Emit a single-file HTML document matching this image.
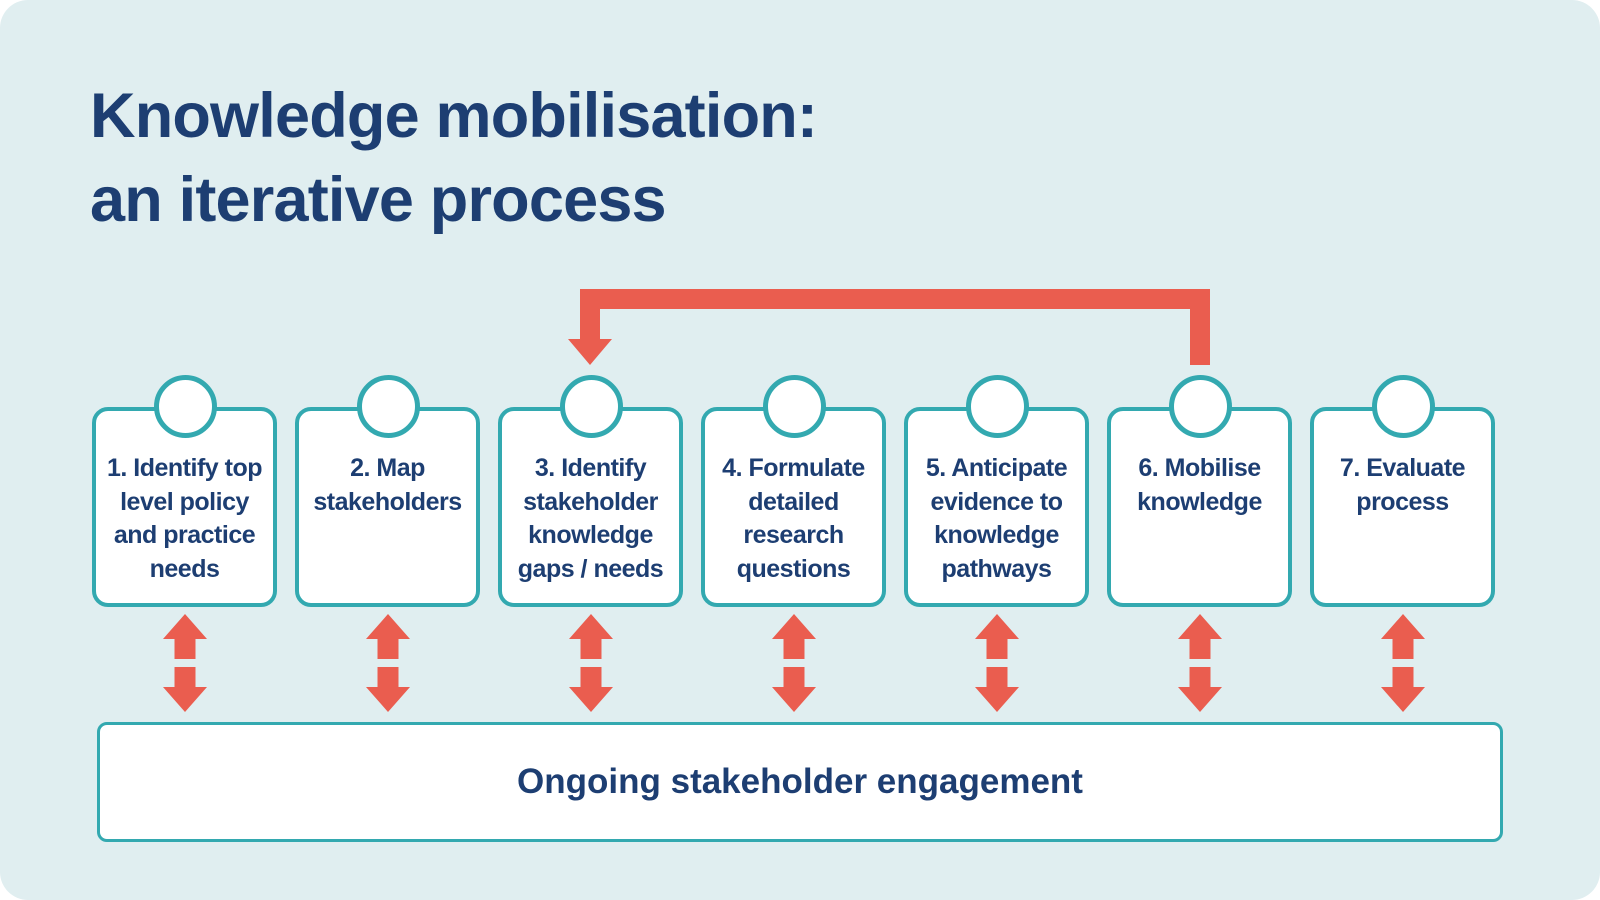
<!DOCTYPE html>
<html><head><meta charset="utf-8"><style>
body{margin:0;width:1600px;height:900px;background:#fff;overflow:hidden;font-family:"Liberation Sans",sans-serif}
#bg{position:absolute;left:0;top:0;width:1600px;height:900px;background:#e0eef0;border-radius:28px}
h1{position:absolute;left:90px;top:74px;margin:0;font-size:63px;line-height:84px;color:#1d3e72;font-weight:bold;letter-spacing:-0.8px}
.box{position:absolute;top:407px;width:177px;height:192px;border:4.5px solid #33a9b0;border-radius:16px;background:#fff;box-sizing:content-box}
.t{position:absolute;left:0;right:0;top:41px;text-align:center;font-size:25px;line-height:33.5px;color:#1d3e72;font-weight:bold;letter-spacing:-0.5px}
.c{position:absolute;top:375px;width:53px;height:53px;border:5px solid #33a9b0;border-radius:50%;background:#fff}
#bot{position:absolute;left:97px;top:722px;width:1400px;height:114px;border:3px solid #33a9b0;border-radius:10px;background:#fff;text-align:center;line-height:114px;font-size:35px;font-weight:bold;color:#1d3e72}
svg{position:absolute;left:0;top:0}
</style></head><body>
<div id="bg"></div>
<h1>Knowledge mobilisation:<br>an iterative process</h1>
<svg width="1600" height="900">
<g fill="#ea5d4f">
<rect x="1190" y="289" width="20" height="76"/>
<rect x="580" y="289" width="630" height="20"/>
<rect x="580" y="289" width="20" height="52"/>
<polygon points="568,339 612,339 590,365"/>
</g>
<g fill="#ea5d4f" id="arrs"></g>
</svg>
<div id="boxes"></div>
<div id="bot">Ongoing stakeholder engagement</div>
<script>
var texts=["1. Identify top<br>level policy<br>and practice<br>needs","2. Map<br>stakeholders","3. Identify<br>stakeholder<br>knowledge<br>gaps / needs","4. Formulate<br>detailed<br>research<br>questions","5. Anticipate<br>evidence to<br>knowledge<br>pathways","6. Mobilise<br>knowledge","7. Evaluate<br>process"];
var h="",a="";
for(var i=0;i<7;i++){var cx=185+203*i;
h+='<div class="box" style="left:'+(cx-93)+'px"><div class="t">'+texts[i]+'</div></div>';
h+='<div class="c" style="left:'+(cx-31.5)+'px"></div>';
a+='<polygon points="'+cx+',614 '+(cx+22)+',639 '+(cx+10.5)+',639 '+(cx+10.5)+',659 '+(cx-10.5)+',659 '+(cx-10.5)+',639 '+(cx-22)+',639"/>';
a+='<polygon points="'+cx+',712 '+(cx+22)+',687 '+(cx+10.5)+',687 '+(cx+10.5)+',667 '+(cx-10.5)+',667 '+(cx-10.5)+',687 '+(cx-22)+',687"/>';}
document.getElementById("boxes").innerHTML=h;
document.getElementById("arrs").innerHTML=a;
</script>
</body></html>
